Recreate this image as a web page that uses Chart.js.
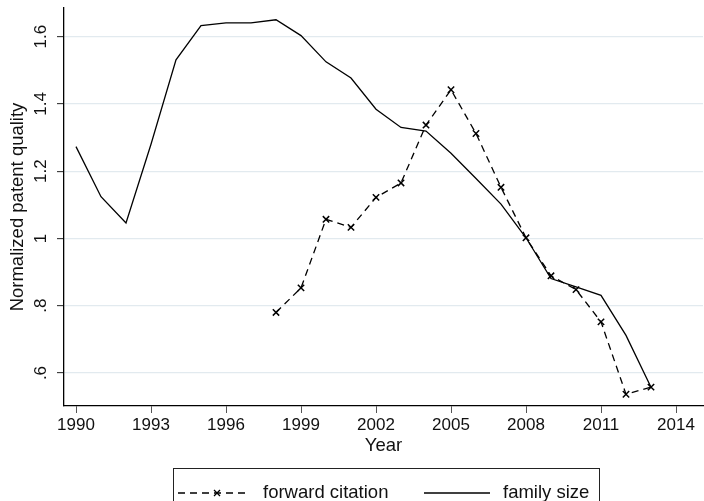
<!DOCTYPE html>
<html>
<head>
<meta charset="utf-8">
<script src="https://cdn.jsdelivr.net/npm/chart.js@4/dist/chart.umd.min.js"></script>
<style>
  body { margin: 0; background: #fff; }
  #wrap { width: 704px; height: 501px; position: relative; }
</style>
</head>
<body>
<div id="wrap"><canvas id="myChart"></canvas></div>
<script>
// data
const family_years = [1990, 1991, 1992, 1993, 1994, 1995, 1996, 1997, 1998, 1999, 2000, 2001,
                      2002, 2003, 2004, 2005, 2006, 2007, 2008, 2009, 2010, 2011, 2012, 2013];
const family_size = [1.273, 1.124, 1.046, 1.28, 1.531, 1.633, 1.641, 1.641, 1.650, 1.603, 1.525, 1.477,
                     1.384, 1.330, 1.319, 1.253, 1.178, 1.102, 1.002, 0.881, 0.856, 0.831, 0.712, 0.558];

const citation_years = [1998, 1999, 2000, 2001, 2002, 2003, 2004, 2005, 2006, 2007, 2008, 2009, 2010, 2011, 2012, 2013];
const forward_citation = [0.780, 0.853, 1.057, 1.033, 1.122, 1.165, 1.337, 1.442, 1.312, 1.152, 1.002, 0.889,
                          0.848, 0.752, 0.537, 0.558];

const x_ticks = [1990, 1993, 1996, 1999, 2002, 2005, 2008, 2011, 2014];
const y_ticks = [0.6, 0.8, 1, 1.2, 1.4, 1.6];
const y_tick_labels = ['.6', '.8', '1', '1.2', '1.4', '1.6'];

const FONT = "'Liberation Sans', Arial, Helvetica, sans-serif";
const TEXT = '#111';

function toPoints(xs, ys) {
    let pts = [];
    for (let i = 0; i < xs.length; i++) {
        pts.push({x: xs[i], y: ys[i]});
    }
    return pts;
}

// legend in a box below the plot, like the stata one
const boxLegend = {
    id: 'boxLegend',
    afterDraw(chart) {
        const ctx = chart.ctx;
        const cy = 493;
        ctx.save();
        ctx.strokeStyle = '#222';
        ctx.lineWidth = 1;
        ctx.strokeRect(173.5, 468.5, 426, 40);

        ctx.lineWidth = 1.3;
        ctx.strokeStyle = '#000';
        // dashed sample with a cross
        ctx.setLineDash([7, 5]);
        ctx.beginPath();
        ctx.moveTo(178, cy);
        ctx.lineTo(248, cy);
        ctx.stroke();
        ctx.setLineDash([]);
        ctx.beginPath();
        ctx.moveTo(214, cy - 3); ctx.lineTo(220, cy + 3);
        ctx.moveTo(220, cy - 3); ctx.lineTo(214, cy + 3);
        ctx.stroke();
        // solid sample
        ctx.beginPath();
        ctx.moveTo(424, cy);
        ctx.lineTo(490, cy);
        ctx.stroke();

        ctx.fillStyle = TEXT;
        ctx.font = '18.5px ' + FONT;
        ctx.textBaseline = 'middle';
        ctx.textAlign = 'left';
        ctx.fillText(chart.data.datasets[0].label, 263, cy);
        ctx.fillText(chart.data.datasets[1].label, 503, cy);
        ctx.restore();
    }
};

const ctx = document.getElementById('myChart').getContext('2d');
const myChart = new Chart(ctx, {
    type: 'line',
    data: {
        datasets: [{
            label: 'forward citation',
            data: toPoints(citation_years, forward_citation),
            borderColor: '#000',
            backgroundColor: '#000',
            borderWidth: 1.3,
            borderDash: [7, 5],
            pointStyle: 'crossRot',
            pointRadius: 4.5,
            pointBorderWidth: 1.5,
            pointBorderColor: '#000',
            fill: false
        }, {
            label: 'family size',
            data: toPoints(family_years, family_size),
            borderColor: '#000',
            borderWidth: 1.3,
            pointRadius: 0,
            fill: false
        }]
    },
    options: {
        responsive: true,
        maintainAspectRatio: false,
        animation: false,
        layout: { autoPadding: false, padding: { top: 8, right: 1, bottom: 40, left: 0 } },
        elements: { line: { tension: 0 } },
        plugins: {
            legend: { display: false },
            tooltip: { enabled: false }
        },
        scales: {
            x: {
                type: 'linear',
                min: 1989.52,
                max: 2015.08,
                afterBuildTicks: function(scale) {
                    scale.ticks = x_ticks.map(v => ({value: v}));
                },
                afterFit: function(scale) {
                    scale.height = 55;
                    scale.paddingLeft = 0;
                    scale.paddingRight = 0;
                },
                ticks: {
                    color: TEXT,
                    font: { family: FONT, size: 17 },
                    padding: 2,
                    maxRotation: 0,
                    autoSkip: false,
                    callback: v => String(v)
                },
                grid: {
                    drawOnChartArea: false,
                    drawTicks: true,
                    tickLength: 7,
                    tickColor: '#555',
                    tickWidth: 1
                },
                border: { display: true, color: '#000', width: 1.3 },
                title: {
                    display: true,
                    text: 'Year',
                    color: TEXT,
                    font: { family: FONT, size: 18.5 },
                    padding: { top: 0, bottom: 4 }
                }
            },
            y: {
                min: 0.502,
                max: 1.685,
                afterBuildTicks: function(scale) {
                    scale.ticks = y_ticks.map(v => ({value: v}));
                },
                afterFit: function(scale) {
                    scale.width = 64;
                    scale.paddingTop = 0;
                    scale.paddingBottom = 0;
                },
                ticks: {
                    color: TEXT,
                    font: { family: FONT, size: 17 },
                    padding: 4,
                    minRotation: 90,
                    maxRotation: 90,
                    crossAlign: 'center',
                    autoSkip: false,
                    callback: function(value) {
                        const i = y_ticks.indexOf(value);
                        return i >= 0 ? y_tick_labels[i] : '';
                    }
                },
                grid: {
                    color: '#e2eaef',
                    lineWidth: 1.3,
                    drawTicks: true,
                    tickLength: 7,
                    tickColor: '#222',
                    tickWidth: 1
                },
                border: { display: true, color: '#000', width: 1.3 },
                title: {
                    display: true,
                    text: 'Normalized patent quality',
                    color: TEXT,
                    font: { family: FONT, size: 18.5 },
                    padding: { top: 7, bottom: 0 }
                }
            }
        }
    },
    plugins: [boxLegend]
});
</script>
</body>
</html>
